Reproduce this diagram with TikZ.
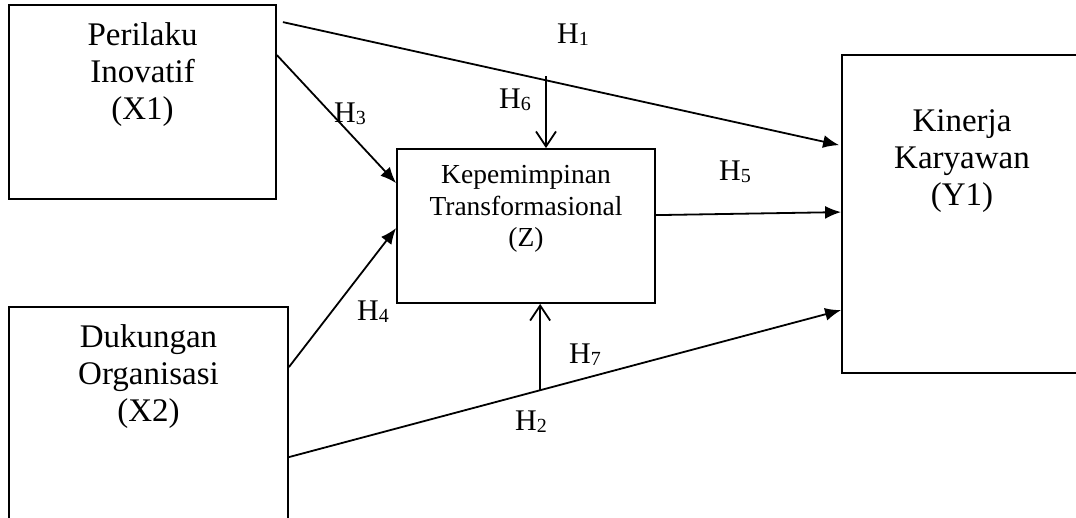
\documentclass[tikz,border=0pt]{standalone}
\usepackage{fontspec}
\setmainfont{Liberation Serif}
\usetikzlibrary{arrows.meta}
\newcommand{\HLabel}[1]{H\raisebox{-2pt}{\fontsize{20}{20}\selectfont #1}}

\begin{document}
\begin{tikzpicture}[x=1pt, y=-1pt]
\tikzset{BoxStyle/.style = {shape=rectangle, draw, line width=1.8pt, inner sep=0pt}}
\tikzset{TextStyle/.style = {align=center, inner sep=0pt, anchor=north, font=\fontsize{33}{37}\selectfont}}
\tikzset{EdgeStyle/.style = {-{Latex[length=16pt, width=13pt]}, line width=1.8pt}}
\tikzset{OpenStyle/.style = {-{Straight Barb[length=15pt, width=20pt]}, line width=1.8pt}}
\tikzset{LabelStyle/.style = {inner sep=0pt, anchor=base, font=\fontsize{30}{34}\selectfont}}
  \useasboundingbox (0,0) rectangle (1076,517);
  \clip (0,0) rectangle (1076,517);
	\node[BoxStyle, minimum width=267pt, minimum height=194pt] (X1) at (142.5,102) {};
	\node[BoxStyle, minimum width=279pt, minimum height=240pt] (X2) at (148.5,427) {};
	\node[BoxStyle, minimum width=258pt, minimum height=154pt] (Z) at (526,226) {};
	\node[BoxStyle, minimum width=240pt, minimum height=318pt] (Y1) at (962,214) {};
  	\node[TextStyle] (X1text) at ([yshift=-18.5pt]X1.north) {Perilaku\\Inovatif\\(X1)};
  	\node[TextStyle] (X2text) at ([yshift=-18.5pt]X2.north) {Dukungan\\Organisasi\\(X2)};
  	\node[TextStyle, font=\fontsize{27.5}{31.5}\selectfont] (Ztext) at ([yshift=-17pt]Z.north) {Kepemimpinan\\Transformasional\\(Z)};
  	\node[TextStyle] (Y1text) at ([yshift=-55.5pt]Y1.north) {Kinerja\\Karyawan\\(Y1)};
  	% paths
  	\draw[EdgeStyle] ([xshift=6pt, yshift=-18pt]X1.north east) -- ([xshift=-2pt, yshift=-91pt]Y1.north west);
  	\draw[EdgeStyle] ([yshift=-51pt]X1.north east) -- ([yshift=-35pt]Z.north west);
  	\draw[EdgeStyle] ([yshift=-61pt]X2.north east) -- ([yshift=-80pt]Z.north west);
  	\draw[EdgeStyle] ([yshift=-67pt]Z.north east) -- ([yshift=-158pt]Y1.north west);
  	\draw[EdgeStyle] ([yshift=-151pt]X2.north east) -- coordinate[pos=0.455] (H7foot) ([yshift=-256pt]Y1.north west);
  	\coordinate (H6top) at (546,76);
  	\draw[OpenStyle] (H6top) -- (H6top |- Z.north);
  	\draw[OpenStyle] (H7foot) -- (H7foot |- Z.south);
  	% labels
  	\node[LabelStyle] (lH1) at (573,43) {\HLabel{1}};
  	\node[LabelStyle] (lH2) at (531,430) {\HLabel{2}};
  	\node[LabelStyle] (lH3) at (350,122) {\HLabel{3}};
  	\node[LabelStyle] (lH4) at (373,320) {\HLabel{4}};
  	\node[LabelStyle] (lH5) at (735,180) {\HLabel{5}};
  	\node[LabelStyle] (lH6) at (515,108) {\HLabel{6}};
  	\node[LabelStyle] (lH7) at (585,363) {\HLabel{7}};
\end{tikzpicture}
\end{document}
